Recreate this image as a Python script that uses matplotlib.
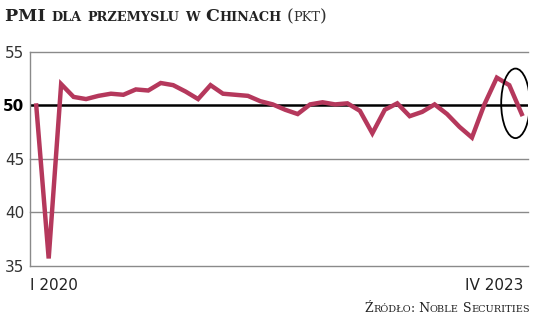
import matplotlib.pyplot as plt
from matplotlib.patches import Ellipse

# PMI Chiny, I 2020 - IV 2023
pmi = [50.0, 35.7, 52.0, 50.8, 50.6, 50.9, 51.1, 51.0, 51.5, 51.4, 52.1, 51.9,
       51.3, 50.6, 51.9, 51.1, 51.0, 50.9, 50.4, 50.1, 49.6, 49.2, 50.1, 50.3,
       50.1, 50.2, 49.5, 47.4, 49.6, 50.2, 49.0, 49.4, 50.1, 49.2, 48.0, 47.0,
       50.1, 52.6, 51.9, 49.2]
months = list(range(len(pmi)))
yticks = [35, 40, 45, 50, 55]
xlabels = ["I 2020", "IV 2023"]

LINE = "#b5385c"
GRID = "#8a8a8a"
SERIF = "DejaVu Serif"


def small_caps(fig, x, y, text, big, small, ha="left", weight="bold", color="#222222"):
    """ Tekst w kapitalikach; zwraca prawa krawedz (wspolrzedne figury) """
    parts = []
    for ch in text:
        up = ch.isupper() or not ch.isalpha()
        if parts and parts[-1][1] == up:
            parts[-1][0] += ch
        else:
            parts.append([ch, up])
    renderer = fig.canvas.get_renderer()
    texts = []
    cur = 0
    for s, up in parts:
        t = fig.text(0, y, s.upper(), fontsize=big if up else small,
                     family=SERIF, weight=weight, color=color, va="baseline")
        w = t.get_window_extent(renderer).width
        texts.append((t, cur))
        cur += w
    total = cur / fig.dpi / fig.get_figwidth()
    x0 = x - total if ha == "right" else x
    for t, off in texts:
        t.set_x(x0 + off / fig.dpi / fig.get_figwidth())
    return x0 + total


fig = plt.figure(figsize=(5.36, 3.17), dpi=100)
ax = fig.add_axes([0.056, 0.161, 0.929, 0.675])

for v in yticks:
    if v == 50:
        continue
    ax.axhline(v, color=GRID, lw=1.0, zorder=1, clip_on=False)
ax.axhline(50, color="black", lw=1.8, zorder=2)
ax.plot(months, pmi, color=LINE, lw=3.2, solid_joinstyle="miter", zorder=3)

ax.add_patch(Ellipse((38.5, 50.2), 2.3, 6.5, fill=False, ec="black", lw=1.3, zorder=4))

ax.set_xlim(-0.5, 39.5)
ax.set_ylim(35, 55)
for s in ["top", "right", "bottom"]:
    ax.spines[s].set_visible(False)
ax.spines["left"].set_color(GRID)
ax.spines["left"].set_linewidth(1.0)
ax.set_xticks([])
ax.set_yticks(yticks)
ax.tick_params(axis="y", length=0, pad=4, labelsize=11, labelcolor="#333333")
for lab in ax.get_yticklabels():
    if lab.get_text() == "50":
        lab.set_fontweight("bold")
        lab.set_color("black")

ax.text(-0.5, 33.9, xlabels[0], ha="left", va="top", fontsize=11, color="#222222")
ax.text(39.1, 33.9, xlabels[1], ha="right", va="top", fontsize=11, color="#222222")

base = 1 - 21 / 317
end = small_caps(fig, 5 / 536, base, "PMI dla przemyslu w Chinach", 12.5, 9.3)
small_caps(fig, end + 4 / 536, base, "(pkt)", 12.5, 9.3, weight="normal", color="#333333")
small_caps(fig, 530 / 536, 1 - 312 / 317, "Źródło: Noble Securities", 9, 7,
           ha="right", weight="normal")

fig.savefig("out.png", dpi=100)
